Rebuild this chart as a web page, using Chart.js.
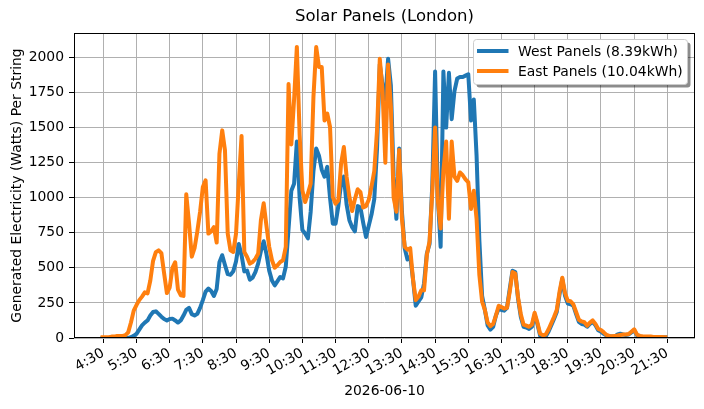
<!DOCTYPE html>
<html>
<head>
<meta charset="utf-8">
<script src="https://cdn.jsdelivr.net/npm/chart.js@4.4.1/dist/chart.umd.min.js"></script>
<style>
  html, body { margin: 0; padding: 0; background: #fff; }
  #wrap { width: 704px; height: 409px; }
</style>
</head>
<body>
<div id="wrap"><canvas id="solarChart" width="704" height="409"></canvas></div>
<script>
// readings every 5 minutes, first one at 4:25
const firstReading = '4:25';
const readingStep = 5;

const westWatts = [
  0, 0, 0, 0, 0, 0, 0, 0, 0, 0, 0,
  5, 15, 30, 60, 90, 110, 125, 160, 185, 190,
  172, 152, 135, 125, 135, 138, 125, 110, 125, 160,
  200, 215, 170, 160, 172, 215, 270, 330, 352, 335,
  300, 350, 540, 590, 520, 455, 450, 475, 545, 670,
  590, 475, 480, 415, 430, 470, 530, 620, 690, 600,
  480, 410, 375, 405, 435, 425, 510, 780, 1050, 1100,
  1400, 1000, 770, 745, 710, 900, 1190, 1350, 1300, 1200,
  1150, 1220, 1000, 815, 815, 940, 1100, 1150, 950, 840,
  790, 760, 940, 930, 820, 720, 800, 880, 990, 1350,
  1950, 1800, 1700, 1990, 1800, 1150, 850, 1350, 900, 640,
  560, 580, 420, 230, 260, 290, 390, 600, 670, 1100,
  1900, 1000, 650, 1900, 1500, 1890, 1560, 1760, 1850, 1860,
  1860, 1870, 1880, 1550, 1700, 1300, 700, 300, 200, 90,
  60, 80, 160, 210, 200, 195, 215, 350, 480, 470,
  280, 150, 80, 75, 65, 80, 165, 100, 15, 5,
  10, 45, 90, 135, 185, 310, 420, 300, 245, 240,
  230, 170, 115, 100, 95, 80, 100, 115, 90, 55,
  45, 30, 18, 12, 10, 12, 25, 30, 25, 22,
  25, 40, 55, 20, 10, 8, 8, 8, 6, 6,
  6, 5, 5, 5, 5
];

const eastWatts = [
  5, 5, 5, 5, 10, 10, 15, 15, 15, 20,
  40, 110, 195, 235, 270, 295, 325, 318, 410, 550, 612,
  625, 605, 460, 320, 360, 500, 540, 345, 305, 300,
  1025, 820, 580, 640, 760, 900, 1076, 1124, 744, 760,
  790, 680, 1314, 1480, 1338, 744, 625, 613, 744, 1100,
  1440, 613, 577, 530, 542, 565, 600, 840, 960, 800,
  650, 554, 501, 518, 542, 554, 650, 1810, 1380, 1700,
  2075, 1450, 1052, 969, 1029, 1100, 1718, 2074, 1931, 1931,
  1551, 1600, 1504, 1005, 957, 981, 1243, 1361, 1148, 1005,
  905, 990, 1060, 1040, 930, 940, 985, 1080, 1190, 1480,
  1990, 1760, 1250, 1950, 1650, 1000, 900, 1340, 850, 650,
  630, 640, 420, 270, 295, 340, 340, 590, 690, 1050,
  1500, 980, 780, 1195, 1400, 850, 1400, 1150, 1120, 1180,
  1160, 1130, 1110, 920, 1050, 850, 450, 260, 200, 110,
  85, 100, 160, 230, 220, 210, 215, 330, 470, 460,
  290, 170, 95, 88, 80, 95, 180, 110, 30, 19,
  25, 60, 105, 150, 200, 330, 430, 320, 265, 262,
  240, 185, 130, 118, 112, 88, 110, 125, 100, 65,
  57, 40, 22, 15, 12, 15, 18, 22, 25, 25,
  28, 45, 62, 25, 15, 12, 10, 10, 10, 8,
  8, 8, 8, 6, 5
];

const seriesNames = ['West Panels (8.39kWh)', 'East Panels (10.04kWh)'];
const seriesColors = ['#1f77b4', '#ff7f0e'];

const xTickLabels = ['4:30', '5:30', '6:30', '7:30', '8:30', '9:30', '10:30', '11:30', '12:30',
  '13:30', '14:30', '15:30', '16:30', '17:30', '18:30', '19:30', '20:30', '21:30'];
const yTickValues = [0, 250, 500, 750, 1000, 1250, 1500, 1750, 2000];

const chartTitle = 'Solar Panels (London)';
const xTitle = '2026-06-10';
const yTitle = 'Generated Electricity (Watts) Per String';

function toMinutes(s) {
  const [h, m] = s.split(':').map(Number);
  return h * 60 + m;
}

const t0 = toMinutes(firstReading);
const toPoints = vals => vals.map((v, i) => ({ x: t0 + i * readingStep, y: v }));
const xTickPos = xTickLabels.map(toMinutes);

const FONT = 'DejaVu Sans';

// title, full frame and boxed legend like matplotlib's
const decorations = {
  id: 'decorations',
  afterDatasetsDraw(chart) {
    const { ctx, chartArea: a } = chart;
    ctx.save();
    ctx.strokeStyle = '#000';
    ctx.lineWidth = 1;
    const l = Math.round(a.left) + 0.5, t = Math.round(a.top) + 0.5;
    const r = Math.round(a.right) - 0.5, b = Math.round(a.bottom) - 0.5;
    ctx.strokeRect(l, t, r - l, b - t);
    ctx.restore();
  },
  afterDraw(chart) {
    const { ctx, chartArea: a } = chart;
    ctx.save();
    ctx.fillStyle = '#000';
    ctx.font = '16.5px "' + FONT + '"';
    ctx.textAlign = 'center';
    ctx.textBaseline = 'middle';
    ctx.fillText(chartTitle, (a.left + a.right) / 2, 17);

    // legend box
    const bx = 473.5, by = 39.5, bw = 214, bh = 45;
    const rr = 3;
    const box = (x, y) => {
      ctx.beginPath();
      ctx.moveTo(x + rr, y);
      ctx.lineTo(x + bw - rr, y);
      ctx.quadraticCurveTo(x + bw, y, x + bw, y + rr);
      ctx.lineTo(x + bw, y + bh - rr);
      ctx.quadraticCurveTo(x + bw, y + bh, x + bw - rr, y + bh);
      ctx.lineTo(x + rr, y + bh);
      ctx.quadraticCurveTo(x, y + bh, x, y + bh - rr);
      ctx.lineTo(x, y + rr);
      ctx.quadraticCurveTo(x, y, x + rr, y);
      ctx.closePath();
    };
    box(bx + 3, by + 3);
    ctx.fillStyle = 'rgba(0,0,0,0.45)';
    ctx.fill();
    box(bx, by);
    ctx.fillStyle = '#fff';
    ctx.fill();
    ctx.strokeStyle = '#cccccc';
    ctx.lineWidth = 1;
    ctx.stroke();

    ctx.font = '13.9px "' + FONT + '"';
    ctx.textAlign = 'left';
    ctx.textBaseline = 'middle';
    const rows = [51, 71];
    seriesNames.forEach((name, i) => {
      ctx.strokeStyle = seriesColors[i];
      ctx.lineWidth = 4;
      ctx.lineCap = 'butt';
      ctx.beginPath();
      ctx.moveTo(477, rows[i]);
      ctx.lineTo(508.5, rows[i]);
      ctx.stroke();
      ctx.fillStyle = '#000';
      ctx.fillText(name, 518, rows[i] + 1);
    });
    ctx.restore();
  }
};

new Chart(document.getElementById('solarChart'), {
  type: 'line',
  data: {
    datasets: [
      {
        label: seriesNames[0],
        data: toPoints(westWatts),
        borderColor: seriesColors[0],
        borderWidth: 4,
        order: 1
      },
      {
        label: seriesNames[1],
        data: toPoints(eastWatts),
        borderColor: seriesColors[1],
        borderWidth: 4,
        order: 0
      }
    ]
  },
  options: {
    responsive: false,
    animation: false,
    devicePixelRatio: 1,
    layout: { padding: { top: 33, right: 9, left: 0, bottom: 0 } },
    elements: {
      point: { radius: 0 },
      line: { tension: 0, borderJoinStyle: 'round', borderCapStyle: 'butt', fill: false }
    },
    plugins: {
      legend: { display: false },
      tooltip: { enabled: false },
      title: { display: false }
    },
    scales: {
      x: {
        type: 'linear',
        min: 217,
        max: 1340,
        afterBuildTicks: s => { s.ticks = xTickPos.map(v => ({ value: v })); },
        afterFit: s => { s.height = 71; },
        ticks: {
          autoSkip: false,
          maxRotation: 30,
          minRotation: 30,
          padding: 2,
          color: '#000',
          font: { family: FONT, size: 13.9 },
          callback: (v) => xTickLabels[xTickPos.indexOf(v)]
        },
        grid: { color: '#b0b0b0', lineWidth: 1, tickLength: 5, tickColor: '#000' },
        border: { display: false },
        title: {
          display: true,
          text: xTitle,
          color: '#000',
          font: { family: FONT, size: 13.9 },
          padding: { top: 0, bottom: 9 }
        }
      },
      y: {
        min: 0,
        max: 2174,
        afterBuildTicks: s => { s.ticks = yTickValues.map(v => ({ value: v })); },
        afterFit: s => { s.width = 74; },
        ticks: {
          padding: 5,
          color: '#000',
          font: { family: FONT, size: 13.9 },
          callback: v => String(v)
        },
        grid: { color: '#b0b0b0', lineWidth: 1, tickLength: 5, tickColor: '#000' },
        border: { display: false },
        title: {
          display: true,
          text: yTitle,
          color: '#000',
          font: { family: FONT, size: 13.9 },
          padding: { top: 9, bottom: 0 }
        }
      }
    }
  },
  plugins: [decorations]
});
</script>
</body>
</html>
